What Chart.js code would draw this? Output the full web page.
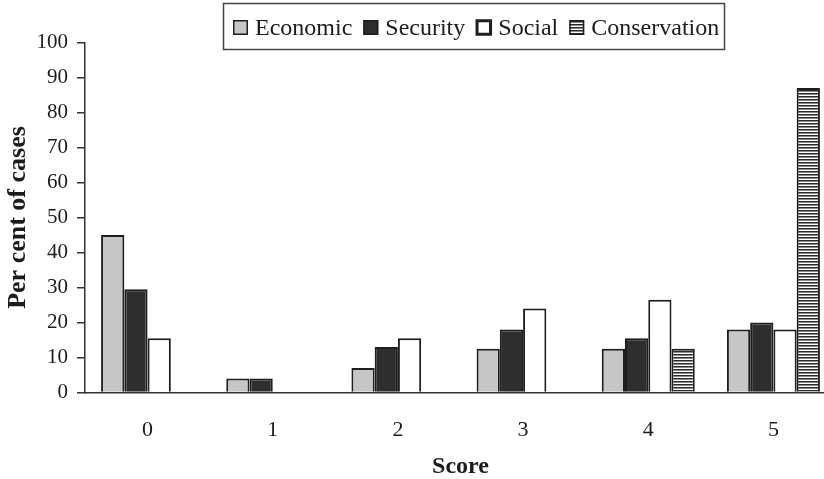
<!DOCTYPE html>
<html lang="en">
<head>
<meta charset="UTF-8">
<title>Incentive scores</title>
<style>
  html, body { margin: 0; padding: 0; background: #fff; overflow: hidden; }
  #chartBox { width: 836px; height: 479px; }
</style>
</head>
<body>
<div id="chartBox"><canvas id="scoreChart"></canvas></div>

<script src="https://cdn.jsdelivr.net/npm/chart.js"></script>
<script>
// per cent of cases for each score
const scores = ['0', '1', '2', '3', '4', '5'];
const economic = [45, 4, 7, 12.5, 12.5, 18];
const security = [29.5, 4, 13, 18, 15.5, 20];
const social = [15.5, 0, 15.5, 24, 26.5, 18];
const conservation = [0, 0, 0, 0, 12.5, 87];

const ink = '#1c1c1c';
const serif = '"Liberation Serif", "Times New Roman", serif';

// horizontal hatching for the conservation bars
function stripes() {
  const c = document.createElement('canvas');
  c.width = 4; c.height = 3;
  const g = c.getContext('2d');
  g.fillStyle = '#fff';
  g.fillRect(0, 0, 4, 3);
  g.fillStyle = '#2a2a2a';
  g.fillRect(0, 0, 4, 1);
  g.fillStyle = '#8a8a8a';
  g.fillRect(0, 1, 4, 1);
  return g.createPattern(c, 'repeat');
}

// legend drawn in a framed box above the plot
const boxedLegend = {
  id: 'boxedLegend',
  afterDraw(chart) {
    const ctx = chart.ctx;
    ctx.save();
    ctx.strokeStyle = '#444';
    ctx.lineWidth = 1.5;
    ctx.strokeRect(223.5, 3.5, 501, 46);
    ctx.font = '24px ' + serif;
    ctx.textBaseline = 'alphabetic';
    let x = 233;
    chart.data.datasets.forEach(ds => {
      ctx.fillStyle = ds.backgroundColor;
      ctx.fillRect(x, 20, 15, 15);
      ctx.strokeStyle = ds.borderColor;
      ctx.lineWidth = ds.label === 'Social' ? 3 : 1.5;
      ctx.strokeRect(x + 0.75, 20.75, 13.5, 13.5);
      x += 22;
      ctx.fillStyle = ink;
      ctx.fillText(ds.label, x, 35);
      x += ctx.measureText(ds.label).width + 11;
    });
    ctx.restore();
  }
};

const ctx = document.getElementById('scoreChart').getContext('2d');
const common = { borderColor: '#1e1e1e', borderWidth: 2, categoryPercentage: 0.743, barPercentage: 1 };

new Chart(ctx, {
  type: 'bar',
  data: {
    labels: scores,
    datasets: [
      { label: 'Economic', data: economic, backgroundColor: '#c6c6c6', ...common },
      { label: 'Security', data: security, backgroundColor: '#2e2e2e', ...common },
      { label: 'Social', data: social, backgroundColor: '#ffffff', ...common },
      { label: 'Conservation', data: conservation, backgroundColor: stripes(), ...common }
    ]
  },
  options: {
    responsive: true,
    maintainAspectRatio: false,
    animation: false,
    layout: { padding: { top: 42.5, left: 0, right: 0, bottom: 0 } },
    plugins: {
      legend: { display: false },
      tooltip: { enabled: false }
    },
    scales: {
      x: {
        grid: { display: false, drawTicks: false },
        border: { display: true, color: '#333', width: 1.5 },
        ticks: { color: ink, padding: 25, font: { family: serif, size: 22 } },
        title: {
          display: true,
          text: 'Score',
          color: ink,
          padding: { top: 0, bottom: 0 },
          font: { family: serif, size: 24, weight: 'bold', lineHeight: 1 }
        },
        afterFit(scale) { scale.height = 86.5; }
      },
      y: {
        min: 0,
        max: 100,
        grid: { drawOnChartArea: false, drawTicks: true, tickLength: 8, color: '#333', lineWidth: 1.5 },
        border: { display: true, color: '#333', width: 1.5 },
        ticks: { stepSize: 10, color: ink, padding: 9, font: { family: serif, size: 21 } },
        title: {
          display: true,
          text: 'Per cent of cases',
          color: ink,
          padding: { top: 5, bottom: 0 },
          font: { family: serif, size: 26, weight: 'bold', lineHeight: 1 }
        },
        afterFit(scale) { scale.width = 85; }
      }
    }
  },
  plugins: [boxedLegend]
});
</script>
</body>
</html>
